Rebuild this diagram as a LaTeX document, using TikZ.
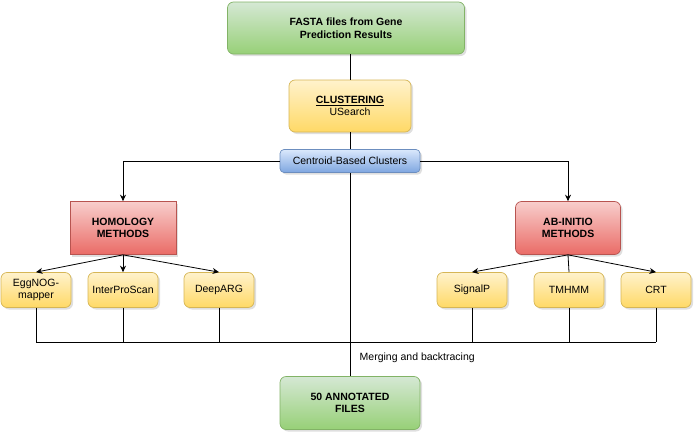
\documentclass[tikz,border=0pt]{standalone}
\usepackage{fontspec}
\setmainfont{Liberation Sans}
\usetikzlibrary{shadows,arrows.meta}

\definecolor{greenTop}{HTML}{D5E8D4}
\definecolor{greenBot}{HTML}{97D077}
\definecolor{greenLine}{HTML}{82B366}
\definecolor{yellowTop}{HTML}{FFF2CC}
\definecolor{yellowBot}{HTML}{FFD966}
\definecolor{yellowLine}{HTML}{D6B656}
\definecolor{redTop}{HTML}{F8CECC}
\definecolor{redBot}{HTML}{EA6B66}
\definecolor{redLine}{HTML}{B85450}
\definecolor{blueTop}{HTML}{DAE8FC}
\definecolor{blueBot}{HTML}{7EA6E0}
\definecolor{blueLine}{HTML}{6C8EBF}

\begin{document}
\begin{tikzpicture}[
    x=1pt, y=-1pt,
    >={Stealth[length=6.5pt,width=6pt]},
    every node/.style={font=\fontsize{10.5}{12.5}\selectfont},
    box/.style={
        draw,
        line width=0.7pt,
        rounded corners=6pt,
        align=center,
        inner sep=0pt,
        drop shadow={opacity=0.25, shadow xshift=2pt, shadow yshift=-2pt}
    },
    greenbox/.style={box, top color=greenTop, bottom color=greenBot, draw=greenLine},
    yellowbox/.style={box, top color=yellowTop, bottom color=yellowBot, draw=yellowLine},
    redbox/.style={box, top color=redTop, bottom color=redBot, draw=redLine},
    bluebox/.style={box, top color=blueTop, bottom color=blueBot, draw=blueLine},
    toolbox/.style={yellowbox, minimum width=70pt, minimum height=35pt},
    arr/.style={->, line width=0.8pt},
    link/.style={line width=0.8pt}
]
    \useasboundingbox (0,0) rectangle (700,439);

    % Main path
    \node[
        greenbox,
        minimum width=237pt,
        minimum height=52pt
    ] (fasta) at (346,28) {\textbf{FASTA files from Gene}\\\textbf{Prediction Results}};

    \node[
        yellowbox,
        minimum width=122pt,
        minimum height=52pt
    ] (clust) at (350,106) {\underline{\textbf{CLUSTERING}}\\USearch};

    \node[
        bluebox,
        rounded corners=4pt,
        minimum width=140pt,
        minimum height=23pt
    ] (cent) at (350,161) {Centroid-Based Clusters};

    \node[
        redbox,
        sharp corners,
        minimum width=106pt,
        minimum height=53pt
    ] (homol) at (123,228) {\textbf{HOMOLOGY}\\\textbf{METHODS}};

    \node[
        redbox,
        minimum width=105pt,
        minimum height=53pt
    ] (abinit) at (568,228) {\textbf{AB-INITIO}\\\textbf{METHODS}};

    % Tools
    \node[toolbox] (eggnog) at (36,290) {EggNOG-\\mapper};
    \node[toolbox] (ipscan) at (123,290) {InterProScan};
    \node[toolbox] (deeparg) at (219,290) {DeepARG};
    \node[toolbox] (signalp) at (472,290) {SignalP};
    \node[toolbox] (tmhmm) at (569,290) {TMHMM};
    \node[toolbox] (crt) at (656,290) {CRT};

    \node[
        greenbox,
        minimum width=140pt,
        minimum height=53pt
    ] (annot) at (350,403) {\textbf{50 ANNOTATED}\\\textbf{FILES}};

    \coordinate (mergeL) at (36,342);
    \coordinate (mergeR) at (656,342);

    \draw[link] (clust.north) -- (clust.north |- fasta.south);
    \draw[link] (clust.south) -- (cent.north);
    \draw[arr] (cent.west) -| (homol.north);
    \draw[arr] (cent.east) -| (abinit.north);

    \draw[arr] (homol.south) -- (eggnog.north);
    \draw[arr] (homol.south) -- (ipscan.north);
    \draw[arr] (homol.south) -- (deeparg.north);
    \draw[arr] (abinit.south) -- (signalp.north);
    \draw[link] (abinit.south) -- (tmhmm.north);
    \draw[arr] (abinit.south) -- (crt.north);

    % Merging
    \foreach \t in {eggnog,ipscan,deeparg,signalp,tmhmm,crt}
        \draw[link] (\t.south) -- (\t.south |- mergeL);
    \draw[link] (mergeL) -- (mergeR);
    \draw[link] (cent.south) -- node[pos=0.91, right=6pt] {Merging and backtracing} (annot.north);

\end{tikzpicture}
\end{document}
